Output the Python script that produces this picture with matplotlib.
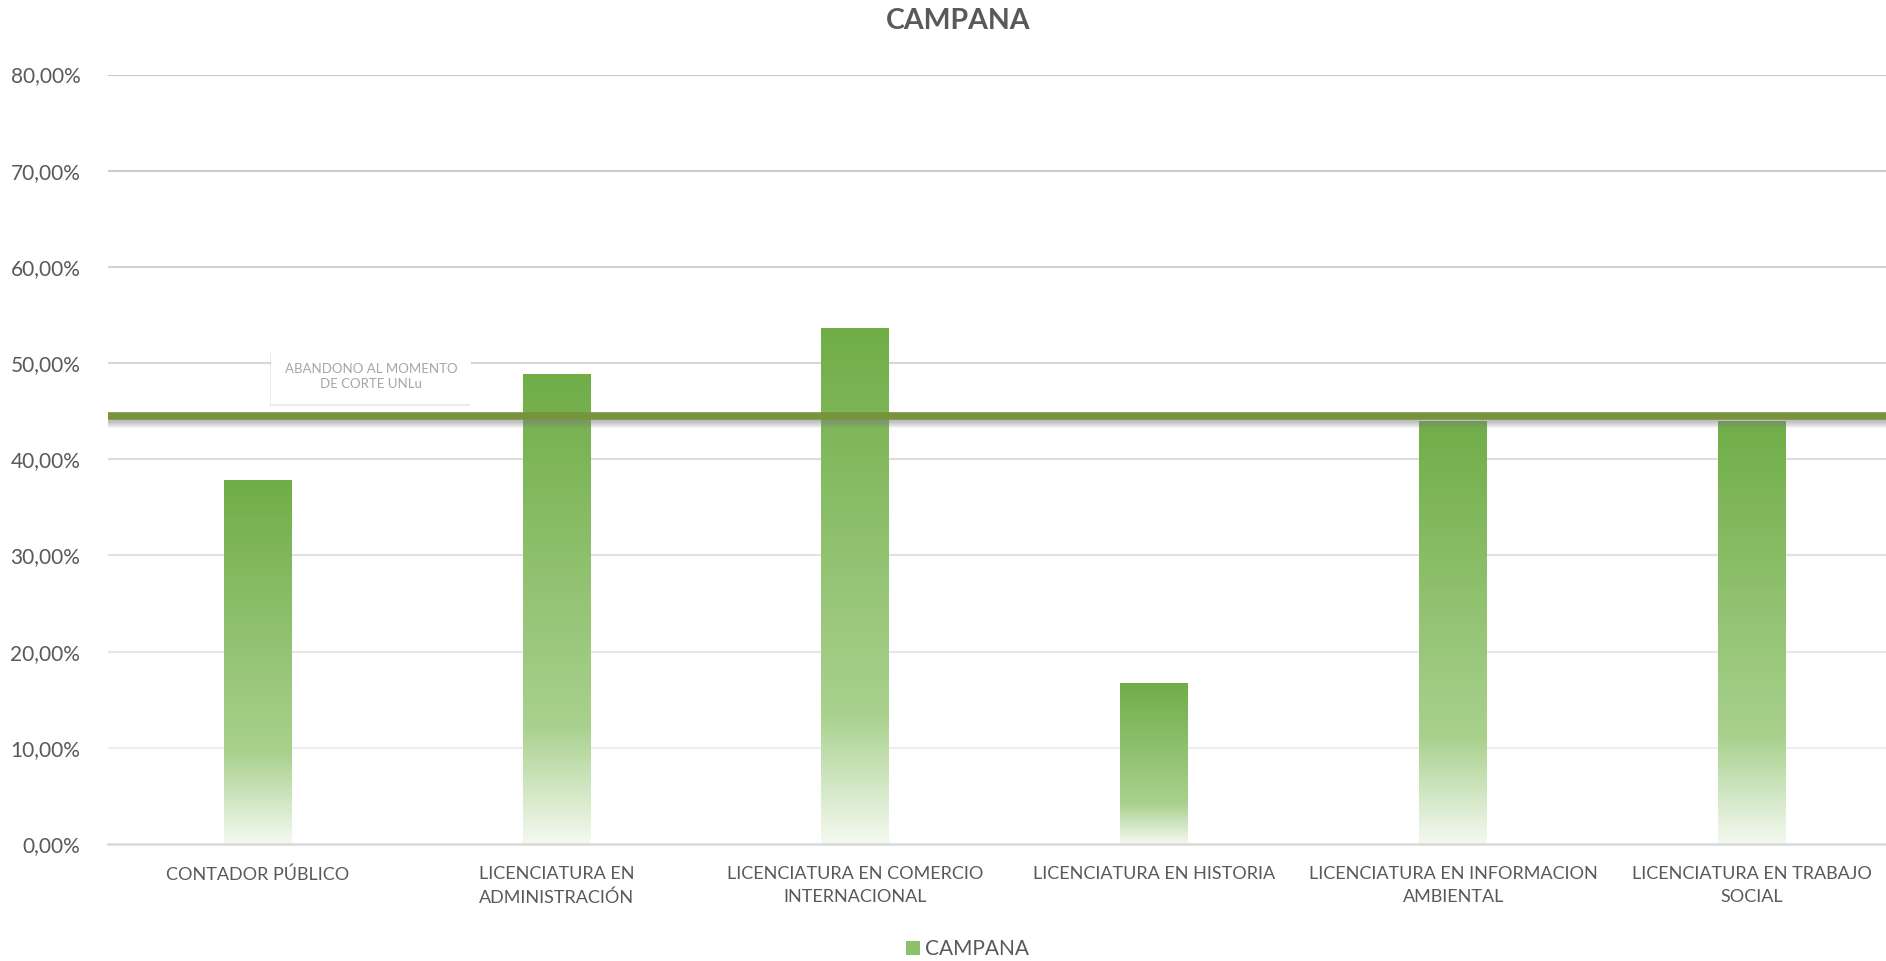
import matplotlib
matplotlib.use("Agg")
import matplotlib.pyplot as plt
import numpy as np
from matplotlib import patheffects as pe
from matplotlib.colors import LinearSegmentedColormap
from matplotlib.patches import Rectangle
from matplotlib.ticker import FuncFormatter

plt.rcParams["font.family"] = ["Lato", "DejaVu Sans"]

categories = [
    "CONTADOR PÚBLICO",
    "LICENCIATURA EN\nADMINISTRACIÓN",
    "LICENCIATURA EN COMERCIO\nINTERNACIONAL",
    "LICENCIATURA EN HISTORIA",
    "LICENCIATURA EN INFORMACION\nAMBIENTAL",
    "LICENCIATURA EN TRABAJO\nSOCIAL",
]
campana = [0.379, 0.489, 0.537, 0.167, 0.440, 0.440]
corte_unlu = 0.445
series_name = "CAMPANA"
ref_label = "ABANDONO AL MOMENTO\nDE CORTE UNLu"
y_ticks = [0.0, 0.1, 0.2, 0.3, 0.4, 0.5, 0.6, 0.7, 0.8]

TEXT = "#595959"

# bottom -> top gradient, per bar
grad = LinearSegmentedColormap.from_list(
    "bar", [(0.0, "#F4F9F1"), (0.25, "#A9D18E"), (1.0, "#70AD47")])
# gridlines fade from light (bottom) to darker (top)
gridcmap = LinearSegmentedColormap.from_list("grid", ["#F2F2F2", "#C8C8C8"])

fig = plt.figure(figsize=(18.86, 9.61), dpi=100)
ax = fig.add_axes([0.0573, 0.1217, 0.951, 0.8007])

x = np.arange(len(categories))
bars = ax.bar(x, campana, width=0.227, color="none", zorder=2)
g = np.linspace(0, 1, 256).reshape(-1, 1)
for b in bars:
    x0, y0 = b.get_x(), b.get_y()
    w, h = b.get_width(), b.get_height()
    im = ax.imshow(g, cmap=grad, origin="lower", aspect="auto",
                   extent=[x0, x0 + w, y0, y0 + h], zorder=2)
    im.set_clip_path(Rectangle((x0, y0), w, h, transform=ax.transData))

for yt in y_ticks[1:]:
    ax.axhline(yt, color=gridcmap(yt / max(y_ticks)), lw=1.5, zorder=0)

# reference line with soft shadow
for k in range(1, 9):
    ax.plot([-0.5, len(categories)], [corte_unlu] * 2, color="#808080", lw=5,
            alpha=0.09, zorder=3,
            path_effects=[pe.withStroke(linewidth=0, foreground="none")],
            transform=ax.transData + matplotlib.transforms.ScaledTranslation(0, -k / 100, fig.dpi_scale_trans))
ax.axhline(corte_unlu, color="#77933C", lw=5.5, zorder=4)

t = ax.text(0.38, 0.486, ref_label, ha="center", va="center", fontsize=9.5,
            color="#A6A6A6", zorder=5, linespacing=1.25,
            bbox=dict(boxstyle="square,pad=1.05", fc="white", ec="none"))
t.get_bbox_patch().set_path_effects(
    [pe.SimplePatchShadow(offset=(-1, -2), shadow_rgbFace="#b0b0b0", alpha=0.25), pe.Normal()])

ax.set_xlim(-0.5, len(categories) - 0.5)
ax.set_ylim(0, 0.8)
ax.set_yticks(y_ticks)
ax.yaxis.set_major_formatter(FuncFormatter(lambda v, p: f"{v*100:.2f}%".replace(".", ",")))
ax.set_xticks(x)
ax.set_xticklabels(categories, fontsize=13, color=TEXT, linespacing=1.55)
ax.tick_params(axis="y", labelsize=15, labelcolor=TEXT, length=0, pad=20)
ax.tick_params(axis="x", length=0, pad=16)
for s in ["top", "right", "left"]:
    ax.spines[s].set_visible(False)
ax.spines["bottom"].set_color("#D9D9D9")
ax.spines["bottom"].set_linewidth(1.8)

fig.text(0.508, 0.978, series_name, ha="center", va="center", fontsize=20.5,
         fontweight="bold", color=TEXT)

handle = Rectangle((0, 0), 1, 1, fc="#8CC06A", ec="none")
fig.legend([handle], [series_name], loc="center", bbox_to_anchor=(0.513, 0.012),
           frameon=False, fontsize=15, labelcolor=TEXT, handlelength=0.7,
           handleheight=0.7, handletextpad=0.25)

fig.savefig("out.png", dpi=100)
